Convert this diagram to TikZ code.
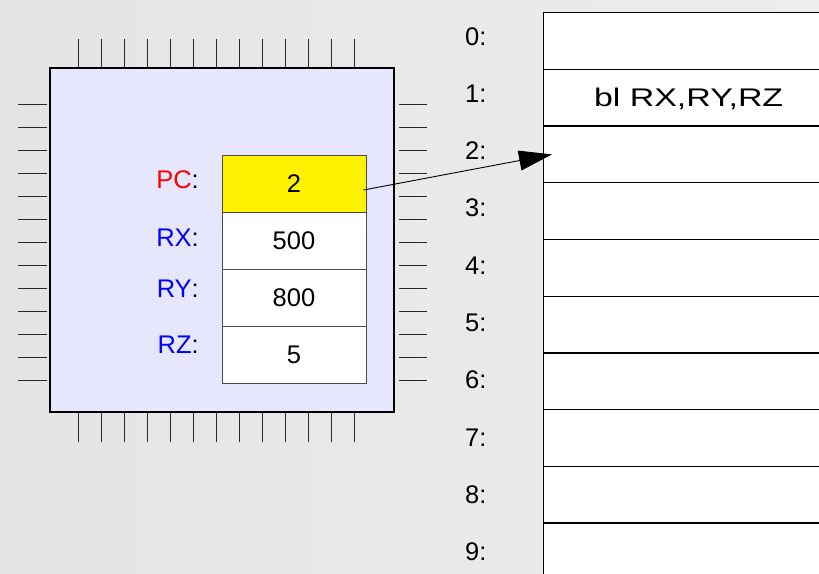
\documentclass[tikz,border=0pt]{standalone}
\usepackage{fontspec}
\setmainfont{Liberation Sans}
\usetikzlibrary{arrows.meta,calc,positioning}
\definecolor{chipfill}{HTML}{E6E6FF}
\definecolor{bgleft}{HTML}{E4E4E4}
\definecolor{bgright}{HTML}{EDEDED}
\tikzset{
  big/.style={font=\fontsize{25.5}{30}\selectfont},
  chip/.style={draw, line width=1.5pt, fill=chipfill, minimum size=344pt, inner sep=0pt},
  pin/.style={line width=1.4pt, black!85},
  regbox/.style={draw=black!70, line width=1pt, minimum width=144pt, minimum height=57pt,
    inner sep=0pt, text height=18pt, text depth=0pt, big},
  reglabel/.style={anchor=base east, inner sep=0pt, big},
  memcell/.style={draw, line width=1.3pt, fill=white, minimum width=290pt, minimum height=56.7pt,
    inner sep=0pt, anchor=north west, text height=18pt, text depth=0pt, big},
  addr/.style={anchor=base west, inner sep=0pt, big},
  ptr/.style={-{Triangle[length=33pt,width=20pt]}, line width=0.9pt},
}

\begin{document}
\begin{tikzpicture}[x=1pt, y=-1pt]
  % Background
  \clip (0,0) rectangle (819,573);
  \shade[left color=bgleft, right color=bgright] (0,0) rectangle (819,573);

  % Processor with its pins
  \node[chip] (cpu) at (222,240) {};
  \foreach \i in {0,...,12} {
    \draw[pin] ($(cpu.north west)+(29+23*\i,0)$) -- ++(0,-28);
    \draw[pin] ($(cpu.south west)+(29+23*\i,0)$) -- ++(0,29);
    \draw[pin] ($(cpu.north west)+(-2,37+23*\i)$) -- ++(-29,0);
    \draw[pin] ($(cpu.north east)+(4,37+23*\i)$) -- ++(28,0);
  }

  % Registers
  \node[regbox, fill=yellow] (pc) at (294,183.5) {2};
  \node[regbox, fill=white, below=-1pt of pc] (rx) {500};
  \node[regbox, fill=white, below=-1pt of rx] (ry) {800};
  \node[regbox, fill=white, below=-1pt of ry] (rz) {5};

  \node[reglabel] (pclabel) at (199,188) {\textcolor{red}{PC}:};
  \node[reglabel] (rxlabel) at (199,246) {\textcolor{blue}{RX}:};
  \node[reglabel] (rylabel) at (199,297) {\textcolor{blue}{RY}:};
  \node[reglabel] (rzlabel) at (199,353) {\textcolor{blue}{RZ}:};

  % Memory
  \foreach \i in {0,...,9} {
    \node[memcell] (m\i) at (543,12+56.7*\i) {};
    \node[addr] (a\i) at (465,45+57.3*\i) {\i:};
  }
  \node[big, text height=18pt, text depth=0pt, inner sep=0pt] (instr) at (m1) {\scalebox{1.33}[1]{bl RX,RY,RZ}};

  % Program counter points into memory
  \draw[ptr] ([xshift=-3pt,yshift=-6.5pt]pc.east) -- ([xshift=9pt]m2.west);
\end{tikzpicture}
\end{document}
